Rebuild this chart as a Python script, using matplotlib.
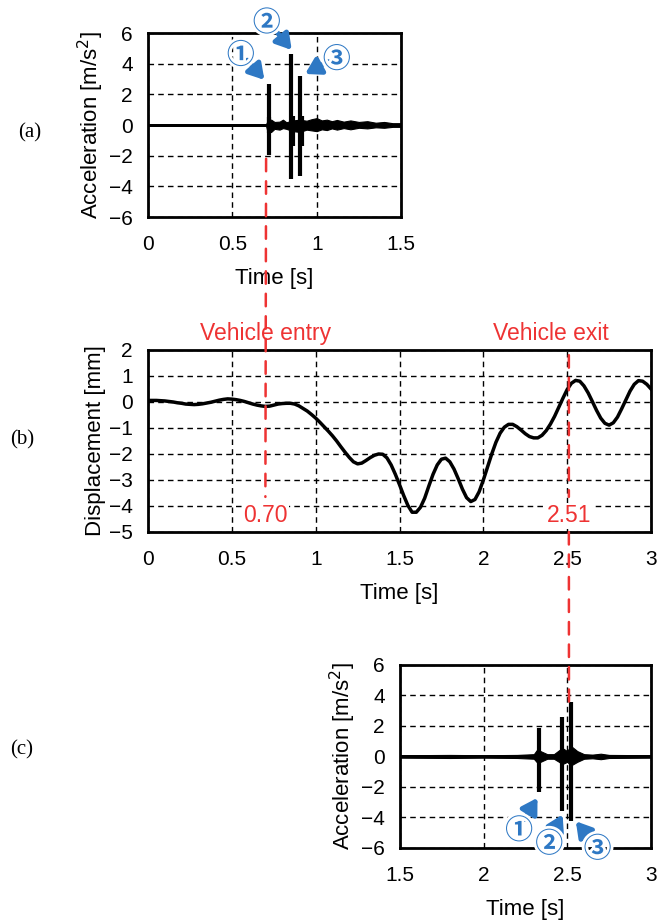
import numpy as np
import matplotlib
matplotlib.use('Agg')
import matplotlib.pyplot as plt
import matplotlib.patheffects as pe
from matplotlib.patches import ConnectionPatch

plt.rcParams['font.family'] = ['Liberation Sans', 'DejaVu Sans']

# ---- data ----
# (b) displacement, sampled every 0.025 s from 0 to 3 s
disp_t = np.round(np.arange(121) * 0.025, 3)
disp_mm = [0.06, 0.06, 0.06, 0.05, 0.04, 0.02, 0.00, -0.03, -0.05, -0.08,
           -0.09, -0.10, -0.09, -0.07, -0.04, -0.01, 0.03, 0.07, 0.10, 0.12,
           0.11, 0.09, 0.06, 0.02, -0.03, -0.08, -0.12, -0.15, -0.17, -0.16,
           -0.12, -0.08, -0.06, -0.05, -0.05, -0.08, -0.15, -0.25, -0.35, -0.48,
           -0.62, -0.78, -0.95, -1.12, -1.30, -1.50, -1.72, -1.93, -2.13, -2.30,
           -2.38, -2.35, -2.25, -2.14, -2.05, -2.00, -2.01, -2.15, -2.42, -2.78,
           -3.18, -3.60, -3.98, -4.24, -4.24, -4.05, -3.70, -3.23, -2.78, -2.42,
           -2.20, -2.16, -2.30, -2.58, -2.95, -3.35, -3.68, -3.83, -3.75, -3.45,
           -3.00, -2.50, -2.00, -1.55, -1.20, -0.97, -0.86, -0.86, -0.95, -1.08,
           -1.22, -1.33, -1.38, -1.38, -1.28, -1.10, -0.85, -0.55, -0.20, 0.15,
           0.48, 0.72, 0.83, 0.80, 0.62, 0.35, 0.02, -0.32, -0.62, -0.82,
           -0.89, -0.80, -0.58, -0.26, 0.08, 0.42, 0.68, 0.82, 0.80, 0.68, 0.50]

# (a) acceleration, first sensor: spikes and noise envelope
spk_a_t = [0.717, 0.720, 0.846, 0.858, 0.901, 0.910]
spk_a_hi = [0.5, 2.65, 4.61, 0.6, 3.20, 0.6]
spk_a_lo = [-1.96, -0.5, -3.54, -1.40, -3.33, -1.40]
env_a_t = [0.00, 0.70, 0.71, 0.73, 0.75, 0.78, 0.80, 0.82, 0.86, 0.90,
           0.94, 0.97, 1.00, 1.03, 1.06, 1.09, 1.12, 1.16, 1.20, 1.25,
           1.30, 1.35, 1.40, 1.45, 1.50]
env_a_hi = [0.06, 0.06, 0.30, 0.35, 0.20, 0.22, 0.35, 0.18, 0.30, 0.35,
            0.28, 0.38, 0.45, 0.30, 0.35, 0.25, 0.33, 0.22, 0.30, 0.20,
            0.25, 0.15, 0.20, 0.12, 0.12]
env_a_lo = [-0.06, -0.06, -0.50, -0.45, -0.25, -0.30, -0.20, -0.25, -0.40, -0.45,
            -0.30, -0.35, -0.40, -0.28, -0.33, -0.22, -0.30, -0.20, -0.28, -0.18,
            -0.22, -0.15, -0.18, -0.12, -0.12]

# (c) acceleration, second sensor
spk_c_t = [2.328, 2.466, 2.525]
spk_c_hi = [1.84, 2.60, 3.60]
spk_c_lo = [-2.32, -3.59, -4.20]
env_c_t = [1.50, 1.80, 2.00, 2.20, 2.30, 2.32, 2.34, 2.38, 2.42, 2.45,
           2.47, 2.50, 2.52, 2.56, 2.60, 2.65, 2.70, 2.75, 3.00]
env_c_hi = [0.08, 0.10, 0.08, 0.10, 0.15, 0.45, 0.35, 0.15, 0.15, 0.40,
            0.55, 0.35, 0.70, 0.35, 0.15, 0.12, 0.18, 0.10, 0.08]
env_c_lo = [-0.08, -0.10, -0.08, -0.10, -0.15, -0.40, -0.35, -0.15, -0.15, -0.35,
            -0.50, -0.35, -0.60, -0.35, -0.15, -0.12, -0.18, -0.10, -0.08]

t_entry = 0.70
t_exit = 2.51

red = '#ee3333'
blue = '#2e78c4'

fig = plt.figure(figsize=(6.57, 9.22), dpi=100)
ax_a = fig.add_axes([0.2253, 0.7646, 0.3851, 0.1996])
ax_b = fig.add_axes([0.2253, 0.4230, 0.7656, 0.1974])
ax_c = fig.add_axes([0.6088, 0.0803, 0.3820, 0.1985])


def style(ax):
    ax.grid(True, ls=(0, (4, 3)), color='black', lw=1)
    ax.set_axisbelow(True)
    for s in ax.spines.values():
        s.set_linewidth(2)
    ax.tick_params(length=0, labelsize=15)
    ax.tick_params(axis='x', pad=13)
    ax.tick_params(axis='y', pad=11)
    ax.set_xlabel('Time [s]', fontsize=16, labelpad=10)


# (a)
ax_a.fill_between(env_a_t, env_a_lo, env_a_hi, color='black', lw=0.8)
ax_a.plot(env_a_t, np.zeros(len(env_a_t)), color='black', lw=2)
ax_a.vlines(spk_a_t, spk_a_lo, spk_a_hi, color='black', lw=3)
ax_a.set_xlim(0, 1.5)
ax_a.set_ylim(-6, 6)
ax_a.set_xticks([0, 0.5, 1, 1.5])
ax_a.set_xticklabels(['0', '0.5', '1', '1.5'])
ax_a.set_yticks([-6, -4, -2, 0, 2, 4, 6])
style(ax_a)
ax_a.set_ylabel('Acceleration [m/s$^2$]', fontsize=16, labelpad=2)

# (b)
ax_b.plot(disp_t, disp_mm, color='black', lw=2.5)
ax_b.set_xlim(0, 3)
ax_b.set_ylim(-5, 2)
ax_b.set_xticks([0, 0.5, 1, 1.5, 2, 2.5, 3])
ax_b.set_xticklabels(['0', '0.5', '1', '1.5', '2', '2.5', '3'])
ax_b.set_yticks([-5, -4, -3, -2, -1, 0, 1, 2])
style(ax_b)
ax_b.set_ylabel('Displacement [mm]', fontsize=16, labelpad=2)
ax_b.text(t_entry, 2.65, 'Vehicle entry', color=red, fontsize=16.5,
          ha='center', va='center', clip_on=False)
ax_b.text(2.40, 2.65, 'Vehicle exit', color=red, fontsize=16.5,
          ha='center', va='center', clip_on=False)
ax_b.text(t_entry, -4.38, '%.2f' % t_entry, color=red, fontsize=16.5,
          ha='center', va='center', zorder=4,
          bbox=dict(fc='white', ec='none', pad=1))
ax_b.text(t_exit, -4.38, '%.2f' % t_exit, color=red, fontsize=16.5,
          ha='center', va='center', zorder=4,
          bbox=dict(fc='white', ec='none', pad=1))

# (c)
ax_c.fill_between(env_c_t, env_c_lo, env_c_hi, color='black', lw=0.8)
ax_c.plot(env_c_t, np.zeros(len(env_c_t)), color='black', lw=2)
ax_c.vlines(spk_c_t, spk_c_lo, spk_c_hi, color='black', lw=3)
ax_c.set_xlim(1.5, 3)
ax_c.set_ylim(-6, 6)
ax_c.set_xticks([1.5, 2, 2.5, 3])
ax_c.set_xticklabels(['1.5', '2', '2.5', '3'])
ax_c.set_yticks([-6, -4, -2, 0, 2, 4, 6])
style(ax_c)
ax_c.set_ylabel('Acceleration [m/s$^2$]', fontsize=16, labelpad=2)

# circled axle numbers with arrows: (label position, arrow tail, arrow tip)
circ = ['\u2460', '\u2461', '\u2462']
ann_a = [((0.550, 4.53), (0.589, 4.23), (0.690, 2.94)),
         ((0.704, 6.65), (0.742, 6.35), (0.852, 4.89)),
         ((1.119, 4.26), (1.067, 4.14), (0.931, 3.33))]
ann_c = [((2.212, -4.88), (2.243, -4.13), (2.322, -2.71)),
         ((2.392, -5.76), (2.418, -4.96), (2.472, -3.81)),
         ((2.681, -6.09), (2.642, -5.47), (2.551, -4.25))]
halo = [pe.withStroke(linewidth=4, foreground='white')]
for ax, anns in [(ax_a, ann_a), (ax_c, ann_c)]:
    for lab, (txt, tail, tip) in zip(circ, anns):
        ax.annotate('', xy=tip, xytext=tail, annotation_clip=False, zorder=5,
                    arrowprops=dict(arrowstyle='-|>,head_length=0.5,head_width=0.3',
                                    color=blue, lw=3.5, mutation_scale=18,
                                    shrinkA=0, shrinkB=0))
        ax.text(txt[0], txt[1], lab, color=blue, fontsize=20,
                family=['Noto Sans CJK JP', 'DejaVu Sans'], fontweight='bold',
                ha='center', va='center', clip_on=False, zorder=6,
                path_effects=halo)

# red dashed marker lines linking the panels
dash = dict(color=red, lw=1.8, linestyle=(0, (5, 4)))
fig.add_artist(ConnectionPatch(xyA=(t_entry, -2.2), coordsA=ax_a.transData,
                               xyB=(t_entry, -3.65), coordsB=ax_b.transData, **dash))
fig.add_artist(ConnectionPatch(xyA=(t_exit, 1.8), coordsA=ax_b.transData,
                               xyB=(t_exit, -3.65), coordsB=ax_b.transData, **dash))
fig.add_artist(ConnectionPatch(xyA=(t_exit, -5), coordsA=ax_b.transData,
                               xyB=(t_exit, 3.6), coordsB=ax_c.transData, **dash))

# panel letters
for lab, x, y in [('(a)', 30, 133), ('(b)', 22, 440), ('(c)', 22, 750)]:
    fig.text(x / 657, 1 - y / 922, lab, family='Liberation Serif', fontsize=15,
             ha='center', va='center')

fig.savefig('out.png', dpi=100)
